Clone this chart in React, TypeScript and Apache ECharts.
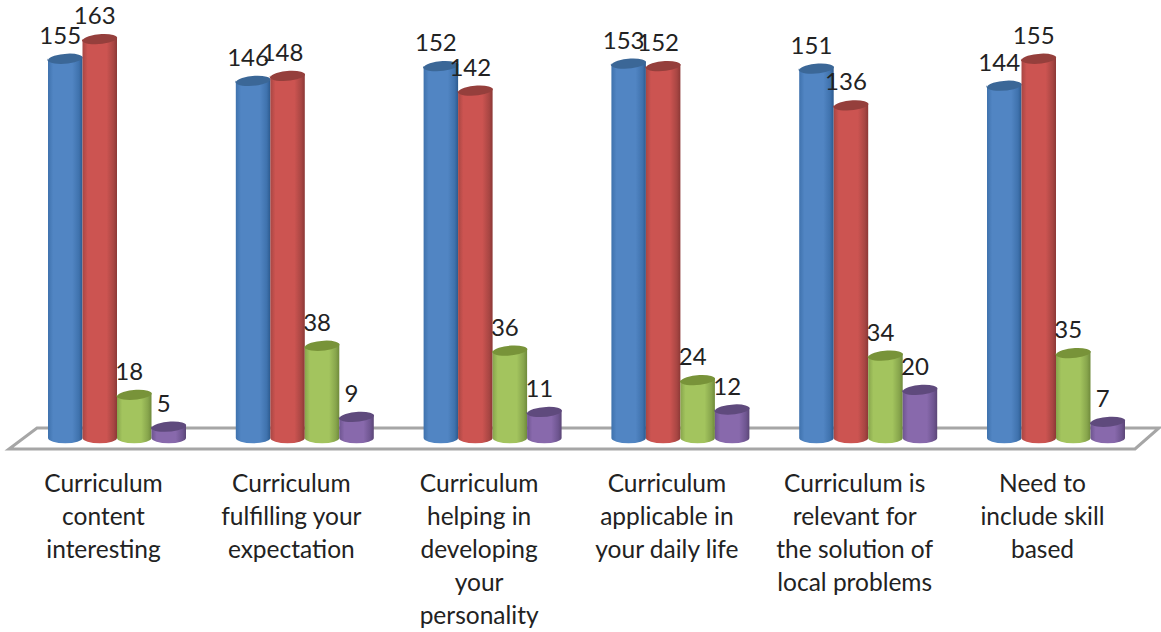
import React, { useEffect, useRef } from "react";
import * as echarts from "echarts";

const categories = [
  "Curriculum\ncontent\ninteresting",
  "Curriculum\nfulfilling your\nexpectation",
  "Curriculum\nhelping in\ndeveloping\nyour\npersonality",
  "Curriculum\napplicable in\nyour daily life",
  "Curriculum is\nrelevant for\nthe solution of\nlocal problems",
  "Need to\ninclude skill\nbased",
];
const seriesA = [155, 146, 152, 153, 151, 144];
const seriesB = [163, 148, 142, 152, 136, 155];
const seriesC = [18, 38, 36, 24, 34, 35];
const seriesD = [5, 9, 11, 12, 20, 7];

const allSeries = [seriesA, seriesB, seriesC, seriesD];
const seriesNames = ["Series 1", "Series 2", "Series 3", "Series 4"];
const palettes = [
  { edgeL: "#3f72ad", mid: "#5185c3", edgeR: "#2c5a8e", top: "#3b6797" },
  { edgeL: "#a84643", mid: "#cc5451", edgeR: "#8c3836", top: "#953f3c" },
  { edgeL: "#87a54c", mid: "#a3c45e", edgeR: "#6f8a3b", top: "#789339" },
  { edgeL: "#6e5590", mid: "#8869ac", edgeR: "#5b4676", top: "#5f4a7d" },
];
const FONT = "Lato";
const TEXT = "#222222";

function makeRender(idx: number) {
  const p = palettes[idx];
  return (_params: any, api: any) => {
    const cat = api.value(0);
    const v = api.value(1);
    const band = api.size([1, 0])[0];
    const w = band * 0.1837;
    const center = api.coord([cat, 0])[0];
    const xl = center - 2 * w + idx * w;
    const xr = xl + w;
    const cx = (xl + xr) / 2;
    const yTop = api.coord([cat, v])[1];
    const yBase = api.coord([cat, 0])[1] - 0.5;
    const rx = w / 2;
    const ry = 5.2;
    const tilt = 1.6;
    const body =
      `M${xl},${yTop + tilt} L${xl},${yBase} ` +
      `A${rx},${ry} 0 0 0 ${xr},${yBase} L${xr},${yTop - tilt} Z`;
    const cap =
      `M${xl},${yTop + tilt} A${rx},${ry} -5 1 1 ${xr},${yTop - tilt} ` +
      `A${rx},${ry} -5 1 1 ${xl},${yTop + tilt} Z`;
    return {
      type: "group",
      children: [
        {
          type: "path",
          shape: { pathData: body },
          style: {
            fill: new echarts.graphic.LinearGradient(0, 0, 1, 0, [
              { offset: 0, color: p.edgeL },
              { offset: 0.15, color: p.mid },
              { offset: 0.7, color: p.mid },
              { offset: 0.9, color: p.edgeL },
              { offset: 1, color: p.edgeR },
            ]),
          },
        },
        { type: "path", shape: { pathData: cap }, style: { fill: p.top } },
        {
          type: "text",
          z2: 100,
          style: {
            x: cx - 5,
            y: yTop - 24,
            text: String(v),
            fill: TEXT,
            font: `24px ${FONT}`,
            align: "center",
            verticalAlign: "middle",
          },
        },
      ],
    };
  };
}

export default function App() {
  const ref = useRef<HTMLDivElement>(null);
  useEffect(() => {
    document.body.style.margin = "0";
    const chart = echarts.init(ref.current!, undefined, { renderer: "svg" });
    chart.setOption({
      animation: false,
      backgroundColor: "#ffffff",
      grid: { left: 23.1, width: 1126.8, top: 21.5, height: 417 },
      xAxis: {
        type: "category",
        data: categories,
        axisLine: { show: false },
        axisTick: { show: false },
        axisLabel: {
          interval: 0,
          margin: 27,
          color: TEXT,
          fontFamily: FONT,
          fontSize: 24.5,
          lineHeight: 33,
          padding: [0, 27, 0, 0],
        },
      },
      yAxis: { type: "value", min: 0, max: 170, show: false },
      graphic: [
        {
          type: "polygon",
          z: 0,
          shape: {
            points: [
              [9, 449],
              [1135, 449],
              [1159, 428],
              [37, 428],
            ],
          },
          style: { fill: "#ffffff", stroke: "#a6a6a6", lineWidth: 3 },
        },
      ],
      series: allSeries.map((values, i) => ({
        type: "custom",
        name: seriesNames[i],
        z: 2 + i,
        renderItem: makeRender(i),
        encode: { x: 0, y: 1 },
        data: values.map((v, c) => [c, v]),
      })),
    });
    return () => chart.dispose();
  }, []);
  return <div ref={ref} style={{ width: 1161, height: 632 }} />;
}
